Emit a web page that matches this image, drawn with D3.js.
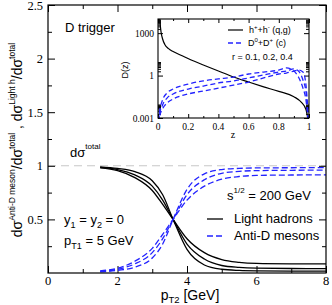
<!DOCTYPE html>
<html>
<head>
<meta charset="utf-8">
<script src="https://cdn.jsdelivr.net/npm/d3@7"></script>
<style>
body { margin: 0; background: #fff; }
svg { display: block; }
</style>
</head>
<body>
<svg id="chart" width="332" height="305"></svg>
<script>
// ---- main panel data: ratio vs pT2 (three curves each) ----
const pT2 = [1.5, 2, 2.5, 3, 3.3, 3.6, 4, 4.5, 5, 5.5, 6, 7, 8];
const lightA = [0.99, 0.975, 0.945, 0.86, 0.73, 0.5, 0.22, 0.075, 0.035, 0.024, 0.02, 0.018, 0.017];
const lightB = [0.985, 0.965, 0.915, 0.81, 0.68, 0.5, 0.27, 0.13, 0.07, 0.052, 0.045, 0.042, 0.04];
const lightC = [0.98, 0.955, 0.89, 0.77, 0.64, 0.5, 0.32, 0.19, 0.125, 0.1, 0.09, 0.086, 0.085];
const antiDA = [0.01, 0.025, 0.055, 0.14, 0.27, 0.5, 0.78, 0.925, 0.965, 0.976, 0.98, 0.982, 0.983];
const antiDB = [0.015, 0.035, 0.085, 0.19, 0.32, 0.5, 0.73, 0.87, 0.93, 0.948, 0.955, 0.958, 0.96];
const antiDC = [0.02, 0.045, 0.11, 0.23, 0.36, 0.5, 0.68, 0.81, 0.875, 0.9, 0.91, 0.914, 0.915];
const xTicks = [0, 2, 4, 6, 8];
const yTicks = [0.5, 1, 1.5, 2, 2.5];

// ---- inset data: fragmentation functions D(z) ----
const zLight = [0.008, 0.013, 0.02, 0.03, 0.045, 0.07, 0.1, 0.16, 0.22, 0.3, 0.4, 0.5, 0.6, 0.7, 0.8, 0.9, 0.95, 0.98, 0.995];
const dLight = [40000, 6300, 1260, 400, 160, 80, 50, 25, 12.6, 5.6, 2.1, 0.8, 0.35, 0.16, 0.076, 0.032, 0.0126, 0.004, 0.0006];
const zCharm = [0.005, 0.01, 0.03, 0.06, 0.1, 0.2, 0.3, 0.4, 0.5, 0.6, 0.7, 0.8, 0.85, 0.9, 0.93, 0.96, 0.98, 0.995];
const dCharm1 = [0.00063, 0.0026, 0.0186, 0.059, 0.112, 0.25, 0.42, 0.58, 0.79, 1.29, 1.78, 2.45, 3.47, 2.09, 0.79, 0.13, 0.0186, 0.00063];
const dCharm2 = [0.0005, 0.0016, 0.0083, 0.0257, 0.05, 0.112, 0.18, 0.30, 0.42, 0.68, 1.1, 1.78, 2.09, 2.95, 2.09, 0.49, 0.069, 0.001];
const dCharm3 = [0.0004, 0.0012, 0.0044, 0.0115, 0.022, 0.05, 0.081, 0.13, 0.21, 0.35, 0.68, 1.29, 1.51, 2.09, 2.45, 1.78, 0.21, 0.0016];
const zTicks = [0, 0.2, 0.4, 0.6, 0.8, 1];
const dTicks = [0.001, 1, 1000];

const BLUE = "#2323ff";
const SERIF = "'Liberation Serif', 'Times New Roman', serif";
const SANS = "'Liberation Sans', Arial, sans-serif";

const svg = d3.select("#chart");

// main scales
const x = d3.scaleLinear().domain([0, 8]).range([48, 326]);
const y = d3.scaleLinear().domain([0, 2.5]).range([273, 5]);

// dashed reference at 1
svg.append("line")
    .attr("x1", x(0)).attr("x2", x(8))
    .attr("y1", y(1)).attr("y2", y(1))
    .style("stroke", "#c8c8c8")
    .style("stroke-width", 1.1)
    .style("stroke-dasharray", "8,5");

// inward ticks helper
function ticks(axis, vals, size, tr) {
    svg.append("g")
        .attr("transform", tr)
        .call(axis.tickValues(vals).tickSize(size).tickFormat("").tickSizeOuter(0))
        .call(g => g.select(".domain").remove())
        .selectAll("line").style("stroke", "#000");
}

const xMinor = [1, 3, 5, 7];
const yMinor = [0.25, 0.75, 1.25, 1.75, 2.25];
ticks(d3.axisBottom(x), xTicks, -7, `translate(0,${y(0)})`);
ticks(d3.axisBottom(x), xMinor, -4, `translate(0,${y(0)})`);
ticks(d3.axisTop(x), xTicks, -7, `translate(0,${y(2.5)})`);
ticks(d3.axisTop(x), xMinor, -4, `translate(0,${y(2.5)})`);
ticks(d3.axisLeft(y), yTicks, -7, `translate(${x(0)},0)`);
ticks(d3.axisLeft(y), yMinor, -4, `translate(${x(0)},0)`);
ticks(d3.axisRight(y), yTicks, -7, `translate(${x(8)},0)`);
ticks(d3.axisRight(y), yMinor, -4, `translate(${x(8)},0)`);

// tick labels
svg.append("g").selectAll("text").data(xTicks).join("text")
    .attr("x", d => x(d)).attr("y", y(0) + 12)
    .attr("text-anchor", "middle")
    .style("font-family", SERIF).style("font-size", "12.5px")
    .text(d => d);
svg.append("g").selectAll("text").data(yTicks).join("text")
    .attr("x", x(0) - 5).attr("y", d => y(d) + 4.5)
    .attr("text-anchor", "end")
    .style("font-family", SERIF).style("font-size", "12.5px")
    .text(d => d);

// curves
const mainLine = d3.line().x(d => x(d[0])).y(d => y(d[1])).curve(d3.curveMonotoneX);
[lightA, lightB, lightC].forEach(s => {
    svg.append("path")
        .attr("d", mainLine(pT2.map((p, i) => [p, s[i]])))
        .style("fill", "none").style("stroke", "#000").style("stroke-width", 1.3);
});
[antiDA, antiDB, antiDC].forEach(s => {
    svg.append("path")
        .attr("d", mainLine(pT2.map((p, i) => [p, s[i]])))
        .style("fill", "none").style("stroke", BLUE).style("stroke-width", 1.3)
        .style("stroke-dasharray", "6,3");
});

// frame
svg.append("rect")
    .attr("x", x(0)).attr("y", y(2.5))
    .attr("width", x(8) - x(0)).attr("height", y(0) - y(2.5))
    .style("fill", "none").style("stroke", "#000").style("stroke-width", 1.2);

// texts in main panel
function txt(px, py, size, parts, family) {
    const t = svg.append("text").attr("x", px).attr("y", py)
        .style("font-family", family || SANS).style("font-size", size + "px");
    parts.forEach(p => {
        const s = t.append("tspan").text(p.t);
        if (p.sup) s.attr("dy", -p.sup).style("font-size", (p.fs || size * 0.62) + "px");
        if (p.sub) s.attr("dy", p.sub).style("font-size", (p.fs || size * 0.7) + "px");
        if (p.back) s.attr("dy", p.back);
    });
    return t;
}
txt(65, 32, 13, [{t: "D trigger"}]);
txt(70, 157, 13, [{t: "dσ"}, {t: "total", sup: 8}]);
txt(64, 224, 13, [{t: "y"}, {t: "1", sub: 4}, {t: " = y", back: -4}, {t: "2", sub: 4}, {t: " = 0", back: -4}]);
txt(64, 245, 13, [{t: "p"}, {t: "T1", sub: 4}, {t: " = 5 GeV", back: -4}]);
txt(227, 200, 13, [{t: "s"}, {t: "1/2", sup: 7}, {t: " = 200 GeV", back: 7}]);
txt(234, 223, 13, [{t: "Light hadrons"}]);
txt(234, 240, 13, [{t: "Anti-D mesons"}]);
svg.append("line").attr("x1", 207).attr("x2", 223).attr("y1", 219).attr("y2", 219)
    .style("stroke", "#000").style("stroke-width", 1.3);
svg.append("line").attr("x1", 207).attr("x2", 225).attr("y1", 236).attr("y2", 236)
    .style("stroke", BLUE).style("stroke-width", 1.3).style("stroke-dasharray", "6,3");

// axis titles
txt(190, 300, 14, [{t: "p"}, {t: "T2", sub: 3, fs: 9.5}, {t: " [GeV]", back: -3}])
    .attr("text-anchor", "middle");
txt(0, 0, 14, [
    {t: "dσ"}, {t: "Anti-D meson", sup: 7, fs: 8.5}, {t: "/dσ", back: 7},
    {t: "total", sup: 7, fs: 8.5}, {t: " , dσ", back: 7},
    {t: "Light h", sup: 7, fs: 8.5}, {t: "/dσ", back: 7}, {t: "total", sup: 7, fs: 8.5}
]).attr("text-anchor", "middle").attr("transform", "translate(22,140) rotate(-90)");

// ---- inset ----
const ix = d3.scaleLinear().domain([0, 1]).range([158, 309]);
const iy = d3.scaleLog().domain([0.001, 10000]).range([118, 19]);

svg.append("rect")
    .attr("x", ix(0)).attr("y", iy(10000))
    .attr("width", ix(1) - ix(0)).attr("height", iy(0.001) - iy(10000))
    .style("fill", "#fff");

svg.append("clipPath").attr("id", "insetClip").append("rect")
    .attr("x", ix(0)).attr("y", iy(10000))
    .attr("width", ix(1) - ix(0)).attr("height", iy(0.001) - iy(10000));

const zMinor = [0.1, 0.3, 0.5, 0.7, 0.9];
const dMinor = [];
[0.001, 1, 1000].forEach(b => { for (let k = 2; k <= 9; k++) dMinor.push(b * k); });
ticks(d3.axisBottom(ix), zTicks, -4, `translate(0,${iy(0.001)})`);
ticks(d3.axisBottom(ix), zMinor, -2, `translate(0,${iy(0.001)})`);
ticks(d3.axisTop(ix), zTicks, -4, `translate(0,${iy(10000)})`);
ticks(d3.axisTop(ix), zMinor, -2, `translate(0,${iy(10000)})`);
ticks(d3.axisLeft(iy), dTicks, -5, `translate(${ix(0)},0)`);
ticks(d3.axisLeft(iy), dMinor, -3, `translate(${ix(0)},0)`);
ticks(d3.axisRight(iy), dTicks, -5, `translate(${ix(1)},0)`);
ticks(d3.axisRight(iy), dMinor, -3, `translate(${ix(1)},0)`);

svg.append("g").selectAll("text").data(zTicks).join("text")
    .attr("x", d => ix(d)).attr("y", iy(0.001) + 12)
    .attr("text-anchor", "middle")
    .style("font-family", SERIF).style("font-size", "9.5px")
    .text(d => d);
svg.append("g").selectAll("text").data(dTicks).join("text")
    .attr("x", ix(0) - 4).attr("y", d => iy(d) + 3.5)
    .attr("text-anchor", "end")
    .style("font-family", SERIF).style("font-size", "9.5px")
    .text(d => d);

const inLine = d3.line().x(d => ix(d[0])).y(d => iy(d[1])).curve(d3.curveMonotoneX);
const clipG = svg.append("g").attr("clip-path", "url(#insetClip)");
clipG.append("path")
    .attr("d", inLine(zLight.map((z, i) => [z, dLight[i]])))
    .style("fill", "none").style("stroke", "#000").style("stroke-width", 1.2);
[dCharm1, dCharm2, dCharm3].forEach(s => {
    clipG.append("path")
        .attr("d", inLine(zCharm.map((z, i) => [z, s[i]])))
        .style("fill", "none").style("stroke", BLUE).style("stroke-width", 1.3)
        .style("stroke-dasharray", "5,3");
});

svg.append("rect")
    .attr("x", ix(0)).attr("y", iy(10000))
    .attr("width", ix(1) - ix(0)).attr("height", iy(0.001) - iy(10000))
    .style("fill", "none").style("stroke", "#000").style("stroke-width", 1.1);

// inset legend and titles
svg.append("line").attr("x1", 228).attr("x2", 243).attr("y1", 30).attr("y2", 30)
    .style("stroke", "#000").style("stroke-width", 1.2);
svg.append("line").attr("x1", 228).attr("x2", 244).attr("y1", 43).attr("y2", 43)
    .style("stroke", BLUE).style("stroke-width", 1.3).style("stroke-dasharray", "5,3");
txt(249, 33, 9, [{t: "h"}, {t: "+", sup: 4, fs: 6}, {t: "+h", back: 4}, {t: "-", sup: 4, fs: 6}, {t: " (q,g)", back: 4}]);
txt(248, 46, 9, [{t: "D"}, {t: "0", sup: 4, fs: 6}, {t: "+D", back: 4}, {t: "+", sup: 4, fs: 6}, {t: " (c)", back: 4}]);
txt(232, 60, 9, [{t: "r = 0.1, 0.2, 0.4"}]);
txt(233, 138, 10, [{t: "z"}], SERIF).attr("text-anchor", "middle");
txt(0, 0, 9, [{t: "D(z)"}]).attr("text-anchor", "middle")
    .attr("transform", "translate(128,70) rotate(-90)");
</script>
</body>
</html>
